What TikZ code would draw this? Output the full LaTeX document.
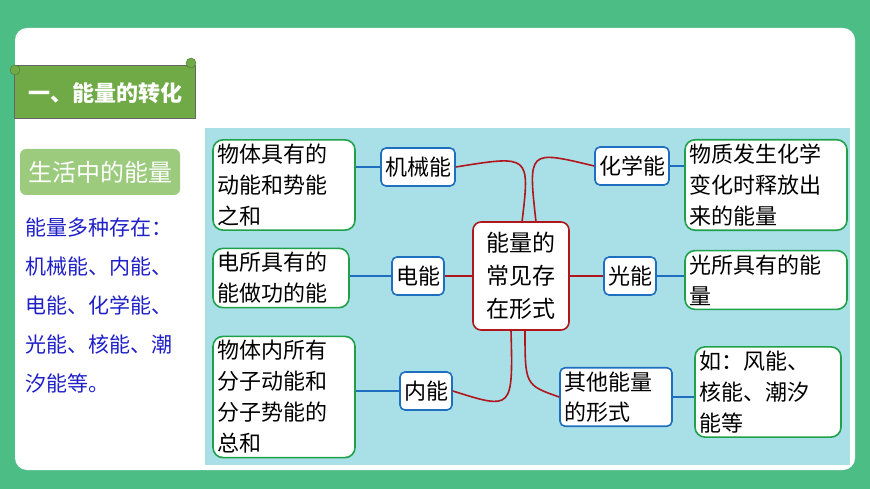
\documentclass[tikz,border=0pt]{standalone}
\usepackage{fontspec}
\setmainfont{Noto Sans CJK SC}
\definecolor{frame}{HTML}{4DBD86}
\definecolor{ribbon}{HTML}{6FAA46}
\definecolor{tag}{HTML}{9CCB7E}
\definecolor{panel}{HTML}{A9DFE7}
\definecolor{hubred}{HTML}{B0161C}
\definecolor{kindblue}{HTML}{1F6FC0}
\definecolor{notegreen}{HTML}{1FA14A}
\definecolor{textblue}{HTML}{2020C8}
\tikzset{
  hub/.style={draw=hubred,line width=1.6pt,fill=white,rounded corners=8pt,align=center,inner sep=3pt,font=\fontsize{23}{33}\selectfont},
  kind/.style={draw=kindblue,line width=1.6pt,fill=white,rounded corners=5pt,align=left,inner sep=4pt,minimum height=38pt,font=\fontsize{22}{30}\selectfont},
  note/.style={draw=notegreen,line width=1.6pt,fill=white,rounded corners=10pt,align=left,inner sep=4pt,font=\fontsize{22}{31}\selectfont},
  hubline/.style={hubred,line width=1.6pt},
  kindline/.style={kindblue,line width=1.6pt}
}
\begin{document}
\begin{tikzpicture}[x=1pt,y=-1pt]
   \useasboundingbox (0,0) rectangle (870,489);
   \fill [frame] (0,0) rectangle (870,489);
   \fill [white, rounded corners=12pt] (15,28) rectangle (855,470);

   % title ribbon
   \fill [ribbon, draw=black!60] (14,65) rectangle (195,118);
   \draw [ribbon!70!black, fill=ribbon] (15,70) circle (5);
   \draw [ribbon!70!black, fill=ribbon] (191,63) circle (5);
   \node (title) [text=white, font=\bfseries\fontsize{22}{26}\selectfont] at (105,93) {一、能量的转化};

   \node (life) [fill=tag, rounded corners=6pt, minimum width=160pt, minimum height=46pt, text=white, font=\fontsize{24}{28}\selectfont] at (100,172) {生活中的能量};
   \node (forms) [anchor=north west, align=left, text=textblue, font=\fontsize{21}{39}\selectfont] at (22,214)
     {能量多种存在：\\机械能、内能、\\电能、化学能、\\光能、核能、潮\\汐能等。};

   % map
   \fill [panel] (205,128) rectangle (850,465);
   \node (hub) [hub, minimum width=96pt, minimum height=108pt] at (521,276) {能量的\\常见存\\在形式};

   \node (mech) [kind] at (418,167) {机械能};
   \node (chem) [kind] at (632,166) {化学能};
   \node (elec) [kind] at (418,276) {电能};
   \node (light) [kind] at (630,276) {光能};
   \node (inner) [kind] at (426,391) {内能};
   \node (other) [kind, text width=104pt] at (616,397) {其他能量\\的形式};

   \node (mechnote) [note, text width=134pt] at (284,185) {物体具有的\\动能和势能\\之和};
   \node (elecnote) [note, text width=128pt] at (281,278) {电所具有的\\能做功的能};
   \node (innernote) [note, text width=134pt] at (284,397) {物体内所有\\分子动能和\\分子势能的\\总和};
   \node (chemnote) [note, text width=154pt] at (766,185) {物质发生化学\\变化时释放出\\来的能量};
   \node (lightnote) [note, text width=154pt] at (766,280) {光所具有的能\\量};
   \node (othernote) [note, text width=138pt] at (768,392) {如：风能、\\核能、潮汐\\能等};

   \draw [hubline] (mech.east) .. controls (530,155) .. (522,222);
   \draw [hubline] (chem.west) .. controls (528,150) .. (536,222);
   \draw [hubline] (elec) -- (hub);
   \draw [hubline] (light) -- (hub);
   \draw [hubline] (inner.east) .. controls (513,410) .. (511,330);
   \draw [hubline] (other.west) .. controls (525,385) .. (525,330);

   \draw [kindline] (mech.west) -- (mech.west -| mechnote.east);
   \draw [kindline] (elec.west) -- (elec.west -| elecnote.east);
   \draw [kindline] (inner.west) -- (inner.west -| innernote.east);
   \draw [kindline] (chem.east) -- (chem.east -| chemnote.west);
   \draw [kindline] (light.east) -- (light.east -| lightnote.west);
   \draw [kindline] (other.east) -- (other.east -| othernote.west);
\end{tikzpicture}
\end{document}
